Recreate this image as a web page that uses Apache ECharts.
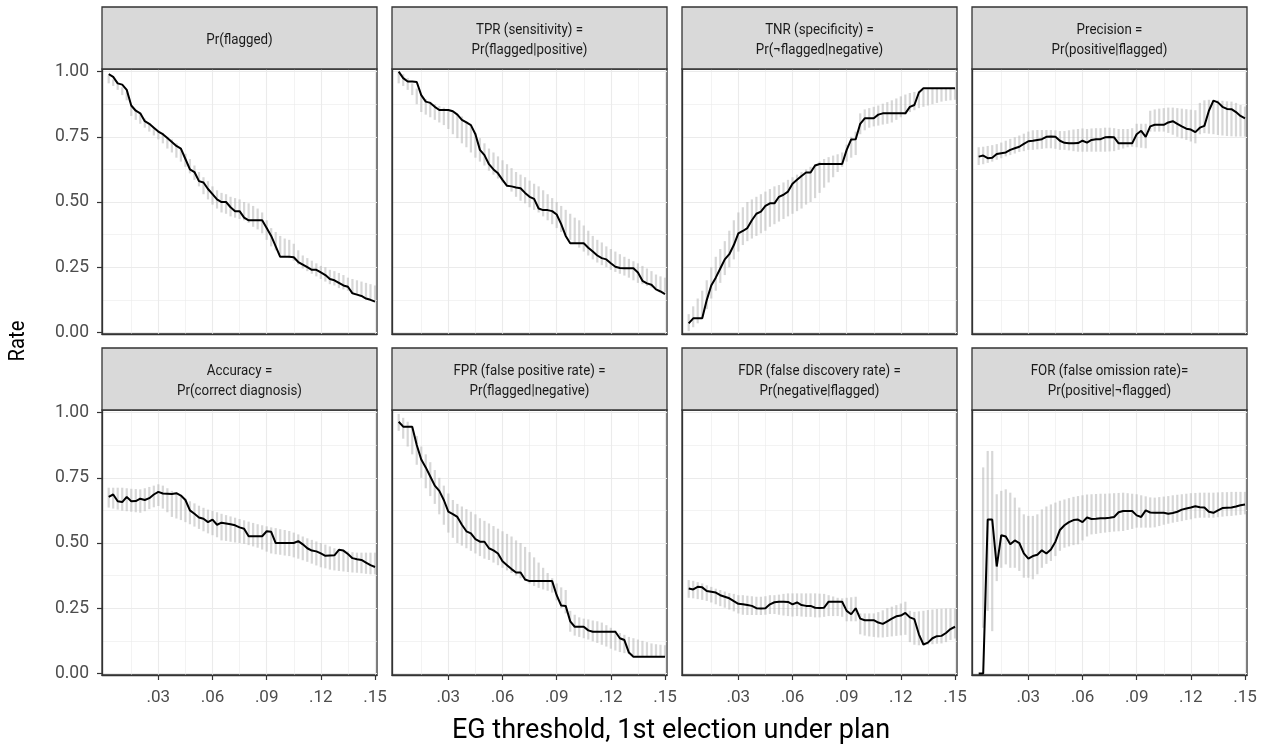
<!DOCTYPE html>
<html>
<head>
<meta charset="utf-8">
<script src="https://cdn.jsdelivr.net/npm/echarts@6/dist/echarts.min.js"></script>
<style>
  html, body { margin: 0; padding: 0; background: #fff; }
  #chart { width: 1271px; height: 750px; }
</style>
</head>
<body>
<div id="chart"></div>
<script>
// EG threshold values (x)
const thresholds = [0.0025, 0.005, 0.0075, 0.01, 0.0125, 0.015, 0.0175, 0.02, 0.0225, 0.025,
  0.0275, 0.03, 0.0325, 0.035, 0.0375, 0.04, 0.0425, 0.045, 0.0475, 0.05,
  0.0525, 0.055, 0.0575, 0.06, 0.0625, 0.065, 0.0675, 0.07, 0.0725, 0.075,
  0.0775, 0.08, 0.0825, 0.085, 0.0875, 0.09, 0.0925, 0.095, 0.0975, 0.1,
  0.1025, 0.105, 0.1075, 0.11, 0.1125, 0.115, 0.1175, 0.12, 0.1225, 0.125,
  0.1275, 0.13, 0.1325, 0.135, 0.1375, 0.14, 0.1425, 0.145, 0.1475, 0.15];

const xTicks = [0.03, 0.06, 0.09, 0.12, 0.15];
const xTickLabels = ['.03', '.06', '.09', '.12', '.15'];
const xMinor = [0.015, 0.045, 0.075, 0.105, 0.135];
const yTicks = [0, 0.25, 0.5, 0.75, 1];
const yTickLabels = ['0.00', '0.25', '0.50', '0.75', '1.00'];
const yMinor = [0.125, 0.375, 0.625, 0.875];

const panelTitles = [
  'Pr(flagged)',
  'TPR (sensitivity) =\nPr(flagged|positive)',
  'TNR (specificity) =\nPr(\u00acflagged|negative)',
  'Precision =\nPr(positive|flagged)',
  'Accuracy =\nPr(correct diagnosis)',
  'FPR (false positive rate) =\nPr(flagged|negative)',
  'FDR (false discovery rate) =\nPr(negative|flagged)',
  'FOR (false omission rate)=\nPr(positive|\u00acflagged)'
];

// Pr(flagged)
const pFlagged = [0.99, 0.98, 0.955, 0.95, 0.93, 0.87, 0.85, 0.84, 0.81, 0.80,
  0.785, 0.77, 0.76, 0.745, 0.73, 0.715, 0.705, 0.665, 0.625, 0.615,
  0.58, 0.575, 0.55, 0.53, 0.51, 0.50, 0.50, 0.48, 0.465, 0.465,
  0.44, 0.43, 0.43, 0.43, 0.43, 0.40, 0.37, 0.33, 0.29, 0.29,
  0.29, 0.288, 0.27, 0.26, 0.25, 0.24, 0.24, 0.23, 0.22, 0.205,
  0.20, 0.19, 0.18, 0.175, 0.15, 0.145, 0.14, 0.13, 0.125, 0.118];
const pFlaggedHi = [0.985, 0.97, 0.955, 0.94, 0.92, 0.87, 0.855, 0.84, 0.82, 0.80,
  0.785, 0.775, 0.765, 0.75, 0.74, 0.725, 0.705, 0.685, 0.665, 0.64,
  0.615, 0.595, 0.58, 0.56, 0.545, 0.535, 0.53, 0.52, 0.515, 0.51,
  0.50, 0.495, 0.485, 0.475, 0.46, 0.43, 0.40, 0.385, 0.37, 0.36,
  0.355, 0.34, 0.315, 0.295, 0.285, 0.275, 0.265, 0.255, 0.25, 0.24,
  0.235, 0.228, 0.22, 0.21, 0.205, 0.2, 0.195, 0.19, 0.185, 0.18];
const pFlaggedLo = [0.955, 0.945, 0.93, 0.91, 0.89, 0.83, 0.815, 0.80, 0.785, 0.77,
  0.755, 0.74, 0.725, 0.705, 0.69, 0.67, 0.655, 0.635, 0.61, 0.585,
  0.56, 0.53, 0.51, 0.49, 0.475, 0.46, 0.455, 0.445, 0.44, 0.435,
  0.43, 0.42, 0.405, 0.395, 0.38, 0.355, 0.33, 0.315, 0.30, 0.29,
  0.285, 0.275, 0.26, 0.245, 0.235, 0.225, 0.215, 0.205, 0.195, 0.185,
  0.18, 0.17, 0.165, 0.16, 0.15, 0.145, 0.14, 0.135, 0.13, 0.125];

// TPR
const tpr = [1.0, 0.975, 0.962, 0.962, 0.96, 0.91, 0.885, 0.88, 0.865, 0.853,
  0.853, 0.853, 0.848, 0.835, 0.815, 0.805, 0.795, 0.76, 0.70, 0.68,
  0.645, 0.625, 0.61, 0.585, 0.562, 0.56, 0.556, 0.553, 0.535, 0.52,
  0.512, 0.475, 0.469, 0.469, 0.465, 0.452, 0.415, 0.37, 0.342, 0.342,
  0.342, 0.342, 0.325, 0.31, 0.295, 0.285, 0.28, 0.265, 0.252, 0.247,
  0.246, 0.246, 0.246, 0.23, 0.198, 0.188, 0.183, 0.165, 0.157, 0.147];
const tprHi = [1.0, 0.99, 0.975, 0.955, 0.935, 0.91, 0.895, 0.885, 0.875, 0.868,
  0.862, 0.855, 0.848, 0.838, 0.828, 0.81, 0.79, 0.765, 0.745, 0.725,
  0.705, 0.69, 0.675, 0.66, 0.645, 0.63, 0.615, 0.605, 0.595, 0.582,
  0.57, 0.56, 0.545, 0.53, 0.515, 0.50, 0.485, 0.47, 0.455, 0.44,
  0.43, 0.41, 0.39, 0.37, 0.355, 0.345, 0.33, 0.32, 0.31, 0.30,
  0.29, 0.282, 0.273, 0.265, 0.255, 0.245, 0.235, 0.222, 0.215, 0.21];
const tprLo = [0.955, 0.945, 0.93, 0.91, 0.875, 0.845, 0.835, 0.825, 0.815, 0.805,
  0.795, 0.78, 0.76, 0.745, 0.725, 0.71, 0.69, 0.67, 0.655, 0.64,
  0.62, 0.605, 0.59, 0.575, 0.56, 0.54, 0.52, 0.505, 0.495, 0.48,
  0.47, 0.46, 0.445, 0.43, 0.415, 0.40, 0.385, 0.37, 0.355, 0.34,
  0.325, 0.31, 0.295, 0.28, 0.268, 0.258, 0.25, 0.24, 0.232, 0.225,
  0.218, 0.21, 0.20, 0.19, 0.185, 0.178, 0.172, 0.165, 0.16, 0.155];

// TNR
const tnr = [0.035, 0.054, 0.054, 0.054, 0.124, 0.18, 0.21, 0.245, 0.28, 0.30,
  0.335, 0.38, 0.389, 0.40, 0.43, 0.455, 0.463, 0.485, 0.495, 0.495,
  0.52, 0.528, 0.54, 0.57, 0.585, 0.60, 0.613, 0.613, 0.64, 0.646,
  0.646, 0.646, 0.646, 0.646, 0.646, 0.70, 0.74, 0.741, 0.80, 0.821,
  0.821, 0.821, 0.835, 0.84, 0.84, 0.84, 0.84, 0.84, 0.84, 0.865,
  0.872, 0.92, 0.936, 0.936, 0.936, 0.936, 0.936, 0.936, 0.936, 0.936];
const tnrHi = [0.07, 0.1, 0.13, 0.16, 0.2, 0.25, 0.29, 0.32, 0.35, 0.39,
  0.43, 0.46, 0.48, 0.50, 0.51, 0.52, 0.53, 0.54, 0.55, 0.56,
  0.565, 0.575, 0.585, 0.595, 0.605, 0.615, 0.625, 0.635, 0.645, 0.655,
  0.665, 0.672, 0.678, 0.683, 0.69, 0.72, 0.75, 0.77, 0.84, 0.855,
  0.86, 0.865, 0.87, 0.877, 0.883, 0.89, 0.897, 0.905, 0.912, 0.918,
  0.922, 0.926, 0.93, 0.932, 0.934, 0.935, 0.936, 0.936, 0.936, 0.936];
const tnrLo = [0.005, 0.02, 0.035, 0.06, 0.09, 0.13, 0.16, 0.19, 0.22, 0.25,
  0.28, 0.31, 0.335, 0.35, 0.36, 0.37, 0.38, 0.39, 0.405, 0.415,
  0.425, 0.435, 0.445, 0.455, 0.465, 0.475, 0.49, 0.50, 0.515, 0.535,
  0.555, 0.575, 0.595, 0.615, 0.635, 0.655, 0.67, 0.68, 0.76, 0.775,
  0.785, 0.79, 0.793, 0.797, 0.80, 0.805, 0.815, 0.825, 0.835, 0.845,
  0.852, 0.86, 0.865, 0.87, 0.875, 0.88, 0.885, 0.888, 0.89, 0.892];

// Precision
const precision = [0.674, 0.678, 0.668, 0.67, 0.684, 0.687, 0.69, 0.70, 0.706, 0.712,
  0.723, 0.733, 0.735, 0.738, 0.741, 0.75, 0.751, 0.75, 0.735, 0.727,
  0.725, 0.725, 0.726, 0.735, 0.728, 0.738, 0.741, 0.741, 0.748, 0.749,
  0.748, 0.725, 0.725, 0.725, 0.725, 0.76, 0.773, 0.75, 0.79, 0.796,
  0.796, 0.796, 0.805, 0.81, 0.80, 0.79, 0.781, 0.778, 0.768, 0.785,
  0.792, 0.85, 0.889, 0.882, 0.865, 0.857, 0.856, 0.845, 0.83, 0.821];
const precisionHi = [0.71, 0.712, 0.715, 0.718, 0.722, 0.728, 0.735, 0.742, 0.748, 0.755,
  0.762, 0.77, 0.775, 0.776, 0.776, 0.776, 0.776, 0.775, 0.772, 0.772,
  0.775, 0.778, 0.78, 0.782, 0.78, 0.782, 0.783, 0.783, 0.785, 0.785,
  0.783, 0.78, 0.78, 0.78, 0.783, 0.80, 0.80, 0.80, 0.85, 0.855,
  0.858, 0.86, 0.862, 0.862, 0.86, 0.858, 0.856, 0.854, 0.852, 0.88,
  0.89, 0.892, 0.892, 0.89, 0.888, 0.886, 0.885, 0.88, 0.872, 0.866];
const precisionLo = [0.642, 0.645, 0.65, 0.655, 0.662, 0.668, 0.675, 0.68, 0.686, 0.692,
  0.695, 0.70, 0.70, 0.702, 0.704, 0.706, 0.706, 0.704, 0.70, 0.70,
  0.698, 0.695, 0.693, 0.693, 0.693, 0.693, 0.693, 0.693, 0.693, 0.694,
  0.695, 0.70, 0.705, 0.71, 0.712, 0.71, 0.708, 0.706, 0.77, 0.77,
  0.77, 0.77, 0.765, 0.758, 0.75, 0.744, 0.738, 0.732, 0.725, 0.76,
  0.764, 0.762, 0.76, 0.757, 0.755, 0.753, 0.752, 0.751, 0.751, 0.751];

// Accuracy
const accuracy = [0.677, 0.686, 0.66, 0.657, 0.677, 0.66, 0.661, 0.67, 0.665, 0.672,
  0.686, 0.696, 0.69, 0.689, 0.688, 0.691, 0.682, 0.665, 0.625, 0.612,
  0.598, 0.593, 0.58, 0.59, 0.57, 0.578, 0.575, 0.572, 0.568, 0.56,
  0.555, 0.526, 0.526, 0.526, 0.526, 0.545, 0.543, 0.50, 0.50, 0.50,
  0.50, 0.50, 0.507, 0.495, 0.48, 0.471, 0.468, 0.46, 0.451, 0.452,
  0.453, 0.474, 0.471, 0.458, 0.442, 0.438, 0.435, 0.425, 0.415, 0.408];
const accuracyHi = [0.712, 0.712, 0.712, 0.712, 0.71, 0.708, 0.707, 0.706, 0.71, 0.715,
  0.72, 0.725, 0.72, 0.71, 0.70, 0.69, 0.68, 0.67, 0.66, 0.652,
  0.643, 0.635, 0.628, 0.623, 0.618, 0.612, 0.607, 0.602, 0.597, 0.592,
  0.587, 0.582, 0.577, 0.572, 0.568, 0.564, 0.56, 0.557, 0.553, 0.55,
  0.546, 0.54, 0.533, 0.525, 0.518, 0.512, 0.506, 0.50, 0.494, 0.487,
  0.48, 0.476, 0.472, 0.468, 0.465, 0.463, 0.463, 0.463, 0.463, 0.463];
const accuracyLo = [0.636, 0.632, 0.628, 0.624, 0.622, 0.62, 0.618, 0.616, 0.622, 0.63,
  0.637, 0.642, 0.632, 0.618, 0.60, 0.594, 0.588, 0.58, 0.572, 0.563,
  0.554, 0.545, 0.537, 0.53, 0.522, 0.51, 0.508, 0.505, 0.502, 0.50,
  0.497, 0.492, 0.487, 0.482, 0.475, 0.467, 0.46, 0.457, 0.455, 0.452,
  0.45, 0.445, 0.44, 0.434, 0.428, 0.421, 0.414, 0.407, 0.403, 0.398,
  0.395, 0.393, 0.391, 0.389, 0.387, 0.386, 0.384, 0.382, 0.38, 0.38];

// FPR
const fpr = [0.965, 0.946, 0.946, 0.946, 0.876, 0.82, 0.79, 0.755, 0.72, 0.70,
  0.665, 0.62, 0.611, 0.60, 0.57, 0.545, 0.537, 0.515, 0.505, 0.505,
  0.48, 0.472, 0.46, 0.43, 0.415, 0.40, 0.387, 0.387, 0.36, 0.354,
  0.354, 0.354, 0.354, 0.354, 0.354, 0.30, 0.26, 0.259, 0.20, 0.179,
  0.179, 0.179, 0.165, 0.16, 0.16, 0.16, 0.16, 0.16, 0.16, 0.135,
  0.128, 0.08, 0.064, 0.064, 0.064, 0.064, 0.064, 0.064, 0.064, 0.064];
const fprHi = [0.995, 0.98, 0.965, 0.94, 0.91, 0.87, 0.84, 0.81, 0.78, 0.75,
  0.72, 0.69, 0.665, 0.65, 0.64, 0.63, 0.62, 0.61, 0.595, 0.585,
  0.575, 0.565, 0.555, 0.545, 0.535, 0.525, 0.51, 0.50, 0.485, 0.465,
  0.445, 0.425, 0.405, 0.385, 0.365, 0.345, 0.33, 0.32, 0.24, 0.225,
  0.215, 0.21, 0.207, 0.203, 0.20, 0.195, 0.185, 0.175, 0.165, 0.155,
  0.148, 0.14, 0.135, 0.13, 0.125, 0.12, 0.115, 0.112, 0.11, 0.108];
const fprLo = [0.93, 0.90, 0.87, 0.84, 0.80, 0.75, 0.71, 0.68, 0.65, 0.61,
  0.57, 0.54, 0.52, 0.50, 0.49, 0.48, 0.47, 0.46, 0.45, 0.44,
  0.435, 0.425, 0.415, 0.405, 0.395, 0.385, 0.375, 0.365, 0.355, 0.345,
  0.335, 0.328, 0.322, 0.317, 0.31, 0.28, 0.25, 0.23, 0.16, 0.145,
  0.14, 0.135, 0.13, 0.123, 0.117, 0.11, 0.103, 0.095, 0.088, 0.082,
  0.078, 0.074, 0.07, 0.068, 0.066, 0.065, 0.064, 0.064, 0.064, 0.064];

// FDR
const fdr = [0.326, 0.322, 0.332, 0.33, 0.316, 0.313, 0.31, 0.30, 0.294, 0.288,
  0.277, 0.267, 0.265, 0.262, 0.259, 0.25, 0.249, 0.25, 0.265, 0.273,
  0.275, 0.275, 0.274, 0.265, 0.272, 0.262, 0.259, 0.259, 0.252, 0.251,
  0.252, 0.275, 0.275, 0.275, 0.275, 0.24, 0.227, 0.25, 0.21, 0.204,
  0.204, 0.204, 0.195, 0.19, 0.20, 0.21, 0.219, 0.222, 0.232, 0.215,
  0.208, 0.15, 0.111, 0.118, 0.135, 0.143, 0.144, 0.155, 0.17, 0.179];
const fdrHi = [0.358, 0.355, 0.35, 0.345, 0.338, 0.332, 0.325, 0.32, 0.314, 0.308,
  0.305, 0.30, 0.30, 0.298, 0.296, 0.294, 0.294, 0.296, 0.30, 0.30,
  0.302, 0.305, 0.307, 0.307, 0.307, 0.307, 0.307, 0.307, 0.307, 0.306,
  0.305, 0.30, 0.295, 0.29, 0.288, 0.29, 0.292, 0.294, 0.23, 0.23,
  0.23, 0.23, 0.235, 0.242, 0.25, 0.256, 0.262, 0.268, 0.275, 0.24,
  0.236, 0.238, 0.24, 0.243, 0.245, 0.247, 0.248, 0.249, 0.249, 0.249];
const fdrLo = [0.29, 0.288, 0.285, 0.282, 0.278, 0.272, 0.265, 0.258, 0.252, 0.245,
  0.238, 0.23, 0.225, 0.224, 0.224, 0.224, 0.224, 0.225, 0.228, 0.228,
  0.225, 0.222, 0.22, 0.218, 0.22, 0.218, 0.217, 0.217, 0.215, 0.215,
  0.217, 0.22, 0.22, 0.22, 0.217, 0.20, 0.20, 0.20, 0.15, 0.145,
  0.142, 0.14, 0.138, 0.138, 0.14, 0.142, 0.144, 0.146, 0.148, 0.12,
  0.11, 0.108, 0.108, 0.11, 0.112, 0.114, 0.115, 0.12, 0.128, 0.134];

// FOR
const falseOmission = [0, 0, 0.59, 0.59, 0.41, 0.53, 0.525, 0.495, 0.51, 0.50,
  0.46, 0.44, 0.45, 0.455, 0.472, 0.46, 0.475, 0.505, 0.55, 0.568,
  0.58, 0.588, 0.59, 0.58, 0.598, 0.592, 0.593, 0.595, 0.595, 0.597,
  0.60, 0.618, 0.623, 0.623, 0.623, 0.606, 0.60, 0.625, 0.617, 0.616,
  0.616, 0.616, 0.612, 0.615, 0.62, 0.628, 0.632, 0.636, 0.641, 0.637,
  0.636, 0.62, 0.616, 0.625, 0.634, 0.635, 0.636, 0.64, 0.645, 0.648];
const falseOmissionHi = [0, 0.79, 0.853, 0.853, 0.687, 0.70, 0.706, 0.693, 0.674, 0.636,
  0.61, 0.604, 0.604, 0.61, 0.629, 0.64, 0.648, 0.655, 0.662, 0.667,
  0.672, 0.677, 0.68, 0.683, 0.686, 0.687, 0.688, 0.689, 0.689, 0.69,
  0.691, 0.692, 0.693, 0.691, 0.689, 0.687, 0.683, 0.679, 0.675, 0.674,
  0.676, 0.678, 0.68, 0.683, 0.685, 0.687, 0.689, 0.691, 0.692, 0.693,
  0.693, 0.693, 0.693, 0.694, 0.695, 0.695, 0.696, 0.696, 0.696, 0.696];
const falseOmissionLo = [0, 0.175, 0.24, 0.162, 0.354, 0.405, 0.418, 0.405, 0.405, 0.393,
  0.367, 0.367, 0.361, 0.38, 0.405, 0.42, 0.431, 0.45, 0.47, 0.482,
  0.487, 0.492, 0.495, 0.51, 0.525, 0.533, 0.535, 0.538, 0.54, 0.542,
  0.544, 0.545, 0.546, 0.55, 0.554, 0.559, 0.559, 0.559, 0.559, 0.56,
  0.565, 0.57, 0.574, 0.578, 0.581, 0.584, 0.588, 0.591, 0.595, 0.597,
  0.597, 0.597, 0.597, 0.599, 0.601, 0.603, 0.604, 0.606, 0.608, 0.61];

const panels = [
  [pFlagged, pFlaggedLo, pFlaggedHi],
  [tpr, tprLo, tprHi],
  [tnr, tnrLo, tnrHi],
  [precision, precisionLo, precisionHi],
  [accuracy, accuracyLo, accuracyHi],
  [fpr, fprLo, fprHi],
  [fdr, fdrLo, fdrHi],
  [falseOmission, falseOmissionLo, falseOmissionHi]
];

const chart = echarts.init(document.getElementById('chart'));

const baseFont = 'Roboto, "Noto Sans", sans-serif';
const panelW = 275, panelH = 265, stripH = 62;
const X_MIN = -0.0012, X_MAX = 0.1511, Y_MIN = -0.006, Y_MAX = 1.01;

function pick(list, labels, v) {
  for (let i = 0; i < list.length; i++) {
    if (Math.abs(list[i] - v) < 1e-6) return labels[i];
  }
  return '';
}

function renderBar(params, api) {
  const x = api.value(0);
  const a = api.coord([x, api.value(1)]);
  const b = api.coord([x, api.value(2)]);
  return {
    type: 'line',
    shape: { x1: a[0], y1: a[1], x2: b[0], y2: b[1] },
    style: { stroke: 'rgba(175,175,175,0.5)', lineWidth: 2.2 }
  };
}

let grids = [], xAxes = [], yAxes = [], series = [], graphics = [];

panels.forEach((p, k) => {
  const row = Math.floor(k / 4), col = k % 4;
  const left = 102 + col * 290;
  const top = row === 0 ? 69 : 410;
  grids.push({
    left: left, top: top, width: panelW, height: panelH,
    show: true, backgroundColor: '#fff', borderColor: '#333', borderWidth: 1.3,
    containLabel: false, outerBoundsMode: 'none'
  });

  // major x axis
  xAxes.push({
    type: 'value', gridIndex: k, min: X_MIN, max: X_MAX, position: 'bottom',
    axisLine: { show: true, onZero: false, lineStyle: { color: '#333', width: 1.3 } },
    axisTick: { show: row === 1, customValues: xTicks, length: 5, lineStyle: { color: '#333', width: 1.2 } },
    axisLabel: {
      show: row === 1, customValues: xTicks, margin: 14,
      formatter: v => pick(xTicks, xTickLabels, v),
      color: '#4D4D4D', fontSize: 17, fontFamily: baseFont
    },
    splitLine: { show: true, customValues: xTicks, lineStyle: { color: '#EBEBEB', width: 1.1 } }
  });
  // minor x grid
  xAxes.push({
    type: 'value', gridIndex: k, min: X_MIN, max: X_MAX, position: 'top',
    axisLine: { show: false }, axisLabel: { show: false },
    axisTick: { show: false, customValues: xMinor },
    splitLine: { show: true, customValues: xMinor, lineStyle: { color: '#EBEBEB', width: 0.6 } }
  });

  yAxes.push({
    type: 'value', gridIndex: k, min: Y_MIN, max: Y_MAX, position: 'left',
    axisLine: { show: true, onZero: false, lineStyle: { color: '#333', width: 1.3 } },
    axisTick: { show: col === 0, customValues: yTicks, length: 5, lineStyle: { color: '#333', width: 1.2 } },
    axisLabel: {
      show: col === 0, customValues: yTicks, margin: 13,
      formatter: v => pick(yTicks, yTickLabels, v),
      color: '#4D4D4D', fontSize: 17.5, fontFamily: baseFont
    },
    splitLine: { show: true, customValues: yTicks, lineStyle: { color: '#EBEBEB', width: 1.1 } }
  });
  yAxes.push({
    type: 'value', gridIndex: k, min: Y_MIN, max: Y_MAX, position: 'right',
    axisLine: { show: false }, axisLabel: { show: false },
    axisTick: { show: false, customValues: yMinor },
    splitLine: { show: true, customValues: yMinor, lineStyle: { color: '#EBEBEB', width: 0.6 } }
  });

  const rate = p[0], lo = p[1], hi = p[2];
  series.push({
    type: 'custom', xAxisIndex: 2 * k, yAxisIndex: 2 * k,
    renderItem: renderBar, encode: { x: 0, y: [1, 2] }, z: 2, clip: true,
    data: thresholds.map((x, i) => [x, lo[i], hi[i]])
  });
  series.push({
    type: 'line', xAxisIndex: 2 * k, yAxisIndex: 2 * k,
    showSymbol: false, symbol: 'none', z: 3,
    lineStyle: { color: '#000', width: 2 },
    data: thresholds.map((x, i) => [x, rate[i]])
  });

  // facet strip
  graphics.push({
    type: 'rect', z: 10,
    shape: { x: left, y: top - stripH, width: panelW, height: stripH },
    style: { fill: '#D9D9D9', stroke: '#333', lineWidth: 1.3 }
  });
  graphics.push({
    type: 'text', z: 11,
    x: left + panelW / 2, y: top - stripH / 2 + 2, scaleX: 0.86,
    style: {
      text: panelTitles[k], x: 0, y: 0,
      align: 'center', verticalAlign: 'middle',
      fontSize: 15.5, lineHeight: 20, fontFamily: baseFont, fill: '#1A1A1A'
    }
  });
});

graphics.push({
  type: 'text', x: 671, y: 731, scaleX: 1.0,
  style: {
    text: 'EG threshold, 1st election under plan', x: 0, y: 0,
    align: 'center', verticalAlign: 'middle',
    fontSize: 27, fontFamily: baseFont, fill: '#000'
  }
});
graphics.push({
  type: 'text', x: 18, y: 341, rotation: Math.PI / 2, scaleX: 0.92,
  style: {
    text: 'Rate', x: 0, y: 0, align: 'center', verticalAlign: 'middle',
    fontSize: 22, fontFamily: baseFont, fill: '#000'
  }
});

chart.setOption({
  animation: false,
  backgroundColor: '#fff',
  grid: grids,
  xAxis: xAxes,
  yAxis: yAxes,
  series: series,
  graphic: graphics
});
</script>
</body>
</html>
